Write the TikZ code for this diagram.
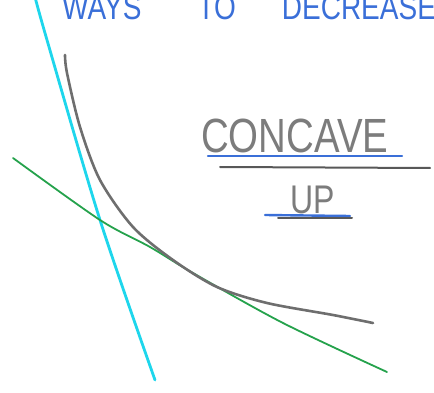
\documentclass[tikz,border=0pt]{standalone}
\usepackage{fontspec}
\newfontfamily\handfont[FakeStretch=0.8]{Liberation Sans}
\usetikzlibrary{positioning}
\definecolor{penblue}{HTML}{3A6FD8}
\definecolor{pencyan}{HTML}{1ED6EC}
\definecolor{pengreen}{HTML}{25A24C}
\definecolor{pengray}{HTML}{6E6E6E}

\begin{document}
\begin{tikzpicture}[x=1pt, y=-1pt,
  handtext/.style={inner sep=0pt, font=\handfont},
  stroke/.style={line width=2.6pt, line cap=round, line join=round}
]
  \useasboundingbox (0,0) rectangle (434,393);
  % heading, cut off by the page edge
  \node[handtext, text=penblue, anchor=base west, font=\handfont\fontsize{35}{35}\selectfont] (title) at (62,20) {WAYS\hspace{56pt}TO\hspace{46pt}DECREASE};
  % tangent lines and curve
  \draw[stroke, pencyan, line width=2.8pt] plot[smooth] coordinates {(35,-3) (47,40) (100,220) (155,380)};
  \draw[stroke, pengreen, line width=1.8pt] plot[smooth] coordinates {(13,158) (100,220) (150,247) (193,273) (283,323) (387,372)};
  \draw[stroke, pengray] plot[smooth] coordinates {(65,55) (67,73) (80,127) (100,180) (133,227) (173,260) (217,287) (267,303) (333,315) (373,323)};
  % label
  \node[handtext, text=pengray!90, anchor=base west, font=\handfont\fontsize{48}{48}\selectfont] (concave) at (201,153) {CONCAVE};
  \node[handtext, text=pengray!90, anchor=base west, font=\handfont\fontsize{40}{40}\selectfont] (up) at (290,213) {UP};
  \draw[stroke, penblue, line width=2.4pt] (208,156) -- (402,156);
  \draw[stroke, pengray!80!black, line width=2pt] (220,167) -- (430,168);
  \draw[stroke, penblue, line width=2.4pt] (265,215) -- (350,216);
  \draw[stroke, pengray!80!black, line width=2pt] (278,218) -- (352,218);
\end{tikzpicture}
\end{document}
